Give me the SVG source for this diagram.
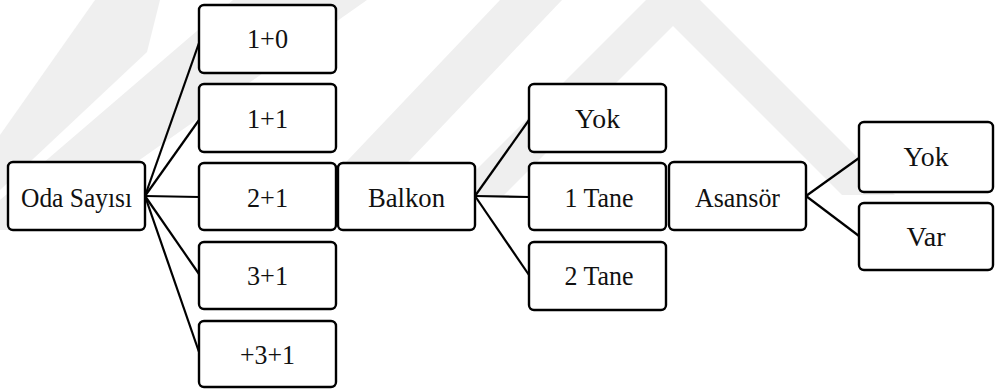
<svg xmlns="http://www.w3.org/2000/svg" width="995" height="389" viewBox="0 0 995 389">
  <style>
    .box { fill: #ffffff; stroke: #000000; stroke-width: 2.4; }
    text { font-family: "Liberation Serif", "Times New Roman", Tinos, "Noto Serif", FreeSerif, Times, "DejaVu Serif", serif; font-size: 28px; fill: #111111; text-anchor: middle; }
    .wire { stroke: #000000; stroke-width: 2.2; fill: none; }
    .mark { fill: #efefef; }
  </style>

  <!-- faint background emblem -->
  <g id="backdrop">
    <polygon class="mark" points="451,195 673,-27 895,195 842,195 673,26 504,195"/>
    <polygon class="mark" points="500,0 562,0 372,200 310,200"/>
    <polygon class="mark" points="233,0 367,0 40,230 0,230 0,200"/>
    <polygon class="mark" points="95,0 160,0 147,52 0,190 0,135"/>
  </g>

  <g id="connectors">
    <line class="wire" x1="145" y1="196" x2="199" y2="43"/>
    <line class="wire" x1="145" y1="196" x2="199" y2="120"/>
    <line class="wire" x1="145" y1="196" x2="199" y2="197"/>
    <line class="wire" x1="145" y1="196" x2="199" y2="274"/>
    <line class="wire" x1="145" y1="196" x2="199" y2="352"/>
    <line class="wire" x1="475" y1="196" x2="529" y2="120"/>
    <line class="wire" x1="475" y1="196" x2="529" y2="197"/>
    <line class="wire" x1="475" y1="196" x2="529" y2="275"/>
    <line class="wire" x1="806" y1="196" x2="859" y2="158"/>
    <line class="wire" x1="806" y1="196" x2="859" y2="236"/>
  </g>

  <g id="oda-sayisi">
    <rect class="box" x="8" y="162" width="137" height="68" rx="5"/>
    <text x="76.5" y="207" textLength="111" lengthAdjust="spacingAndGlyphs">Oda Sayısı</text>
  </g>
  <g id="oda-1-0">
    <rect class="box" x="199" y="5" width="137" height="68" rx="5"/>
    <text x="267.5" y="48" textLength="41" lengthAdjust="spacingAndGlyphs">1+0</text>
  </g>
  <g id="oda-1-1">
    <rect class="box" x="199" y="84" width="137" height="68" rx="5"/>
    <text x="267.5" y="128" textLength="41" lengthAdjust="spacingAndGlyphs">1+1</text>
  </g>
  <g id="oda-2-1">
    <rect class="box" x="199" y="163" width="137" height="67" rx="5"/>
    <text x="267.5" y="207" textLength="41" lengthAdjust="spacingAndGlyphs">2+1</text>
  </g>
  <g id="oda-3-1">
    <rect class="box" x="199" y="242" width="137" height="67" rx="5"/>
    <text x="267.5" y="285" textLength="41" lengthAdjust="spacingAndGlyphs">3+1</text>
  </g>
  <g id="oda-plus-3-1">
    <rect class="box" x="199" y="321" width="137" height="66" rx="5"/>
    <text x="267.5" y="364" textLength="55" lengthAdjust="spacingAndGlyphs">+3+1</text>
  </g>

  <g id="balkon">
    <rect class="box" x="338" y="163" width="137" height="67" rx="5"/>
    <text x="406.5" y="207" textLength="77" lengthAdjust="spacingAndGlyphs">Balkon</text>
  </g>
  <g id="balkon-yok">
    <rect class="box" x="529" y="84" width="137" height="68" rx="5"/>
    <text x="597.5" y="128" textLength="45" lengthAdjust="spacingAndGlyphs">Yok</text>
  </g>
  <g id="balkon-1-tane">
    <rect class="box" x="529" y="163" width="137" height="67" rx="5"/>
    <text x="599" y="207" textLength="69" lengthAdjust="spacingAndGlyphs">1 Tane</text>
  </g>
  <g id="balkon-2-tane">
    <rect class="box" x="529" y="242" width="137" height="68" rx="5"/>
    <text x="599" y="285" textLength="69" lengthAdjust="spacingAndGlyphs">2 Tane</text>
  </g>

  <g id="asansor">
    <rect class="box" x="669" y="162" width="137" height="68" rx="5"/>
    <text x="737.5" y="207" textLength="85" lengthAdjust="spacingAndGlyphs">Asansör</text>
  </g>
  <g id="asansor-yok">
    <rect class="box" x="859" y="122" width="134" height="70" rx="5"/>
    <text x="926" y="166" textLength="45" lengthAdjust="spacingAndGlyphs">Yok</text>
  </g>
  <g id="asansor-var">
    <rect class="box" x="859" y="203" width="134" height="67" rx="5"/>
    <text x="926" y="246" textLength="39" lengthAdjust="spacingAndGlyphs">Var</text>
  </g>
</svg>
